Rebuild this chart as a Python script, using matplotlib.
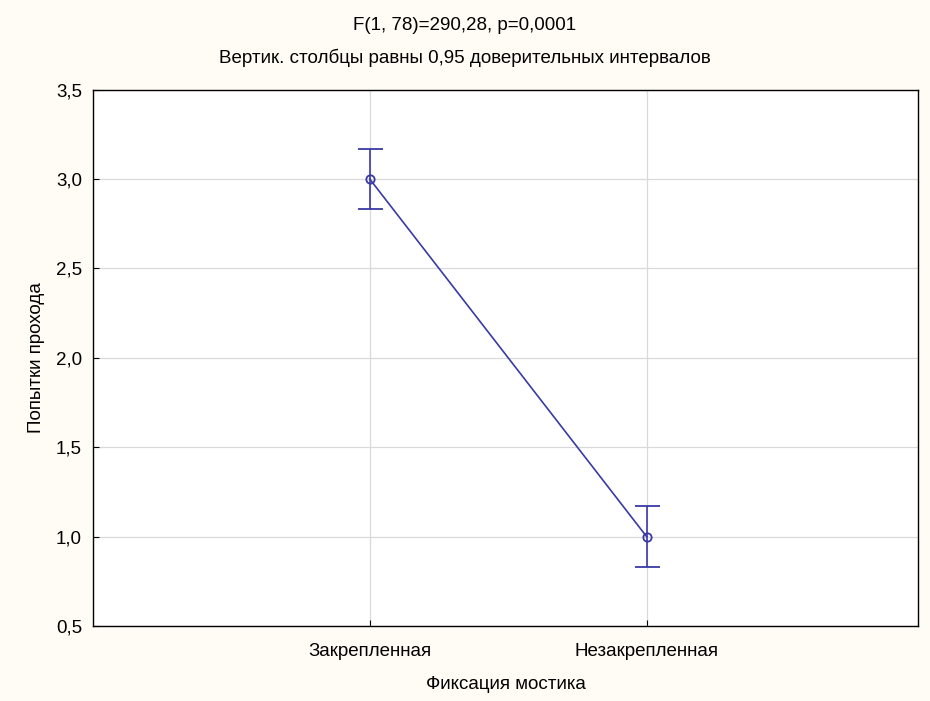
import matplotlib
matplotlib.use("Agg")
import matplotlib.pyplot as plt
import numpy as np

plt.rcParams['font.family'] = ['Liberation Sans', 'DejaVu Sans']

# data
categories = ['Закрепленная', 'Незакрепленная']
means = [3.0, 1.0]
ci_low = [2.83, 0.83]
ci_high = [3.17, 1.17]

title1 = 'F(1, 78)=290,28, p=0,0001'
title2 = 'Вертик. столбцы равны 0,95 доверительных интервалов'
xlabel = 'Фиксация мостика'
ylabel = 'Попытки прохода'
yticks = [0.5, 1.0, 1.5, 2.0, 2.5, 3.0, 3.5]

col = '#3a3aa6'

fig = plt.figure(figsize=(9.3, 7.01), dpi=100)
fig.patch.set_facecolor('#fffcf5')
ax = fig.add_axes([0.1, 0.107, 0.887, 0.765])
ax.set_facecolor('white')

x = np.arange(len(categories))
m = np.array(means)
yerr = [m - np.array(ci_low), np.array(ci_high) - m]
ax.errorbar(x, m, yerr=yerr, color=col, lw=1.2, capsize=9, capthick=1.2,
            marker='o', markersize=6, markerfacecolor='none', markeredgecolor=col,
            markeredgewidth=1.3, zorder=3)

ax.set_xlim(-1.0, 1.98)
ax.set_ylim(0.5, 3.5)
ax.set_xticks(x)
ax.set_xticklabels(categories)
ax.set_yticks(yticks)
ax.set_yticklabels([('%.1f' % v).replace('.', ',') for v in yticks])
ax.grid(True, color='#d9d9d9', lw=0.9)
ax.set_axisbelow(True)
ax.tick_params(direction='in', length=4, labelsize=13.5, color='black', pad=12)
ax.tick_params(axis='y', pad=8)
for s in ax.spines.values():
    s.set_linewidth(1.0)
    s.set_color('black')

ax.set_xlabel(xlabel, fontsize=13.5, labelpad=12)
ax.set_ylabel(ylabel, fontsize=13.5, labelpad=8)

fig.text(0.5, 1 - 25 / 701, title1, ha='center', va='center', fontsize=13.5)
fig.text(0.5, 1 - 58 / 701, title2, ha='center', va='center', fontsize=13.5)

fig.savefig('out.png', dpi=100, facecolor=fig.get_facecolor())
